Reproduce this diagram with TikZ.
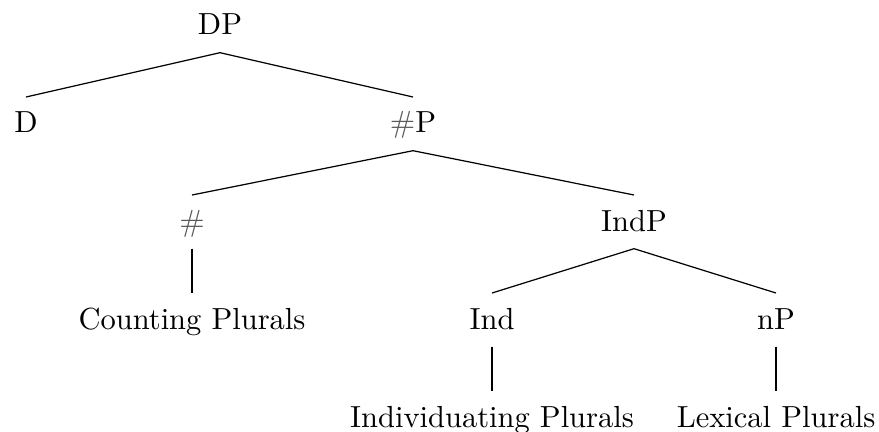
\documentclass[tikz,border=0pt]{standalone}
\begin{document}
\begin{tikzpicture}[x=0.3279pt,y=-0.3279pt,
  lbl/.style={anchor=base, text height=8pt, text depth=2pt, inner xsep=0pt, inner ysep=3.6pt},
  branch/.style={line width=0.4pt}]
\newcommand{\numsign}{\textcolor{black!65}{$\#$}}
\useasboundingbox (0,0) rectangle (879,432);
% level 0
\node[lbl] (dp) at (220,35) {DP};
% level 1
\node[lbl] (d) at (26,133) {D};
\node[lbl] (nump) at (413,133) {\numsign P};
% level 2
\node[lbl] (num) at (192,231) {\numsign};
\node[lbl] (indp) at (634,231) {IndP};
% level 3
\node[lbl] (counting) at (192,329) {Counting Plurals};
\node[lbl] (ind) at (492,329) {Ind};
\node[lbl] (np) at (776,329) {nP};
% level 4
\node[lbl] (indiv) at (492,427) {Individuating Plurals};
\node[lbl] (lexical) at (776,427) {Lexical Plurals};
% branches
\draw[branch] (dp.south) -- (d.north);
\draw[branch] (dp.south) -- (nump.north);
\draw[branch] (nump.south) -- (num.north);
\draw[branch] (nump.south) -- (indp.north);
\draw[branch] (num.south) -- (counting.north);
\draw[branch] (indp.south) -- (ind.north);
\draw[branch] (indp.south) -- (np.north);
\draw[branch] (ind.south) -- (indiv.north);
\draw[branch] (np.south) -- (lexical.north);
\end{tikzpicture}
\end{document}
